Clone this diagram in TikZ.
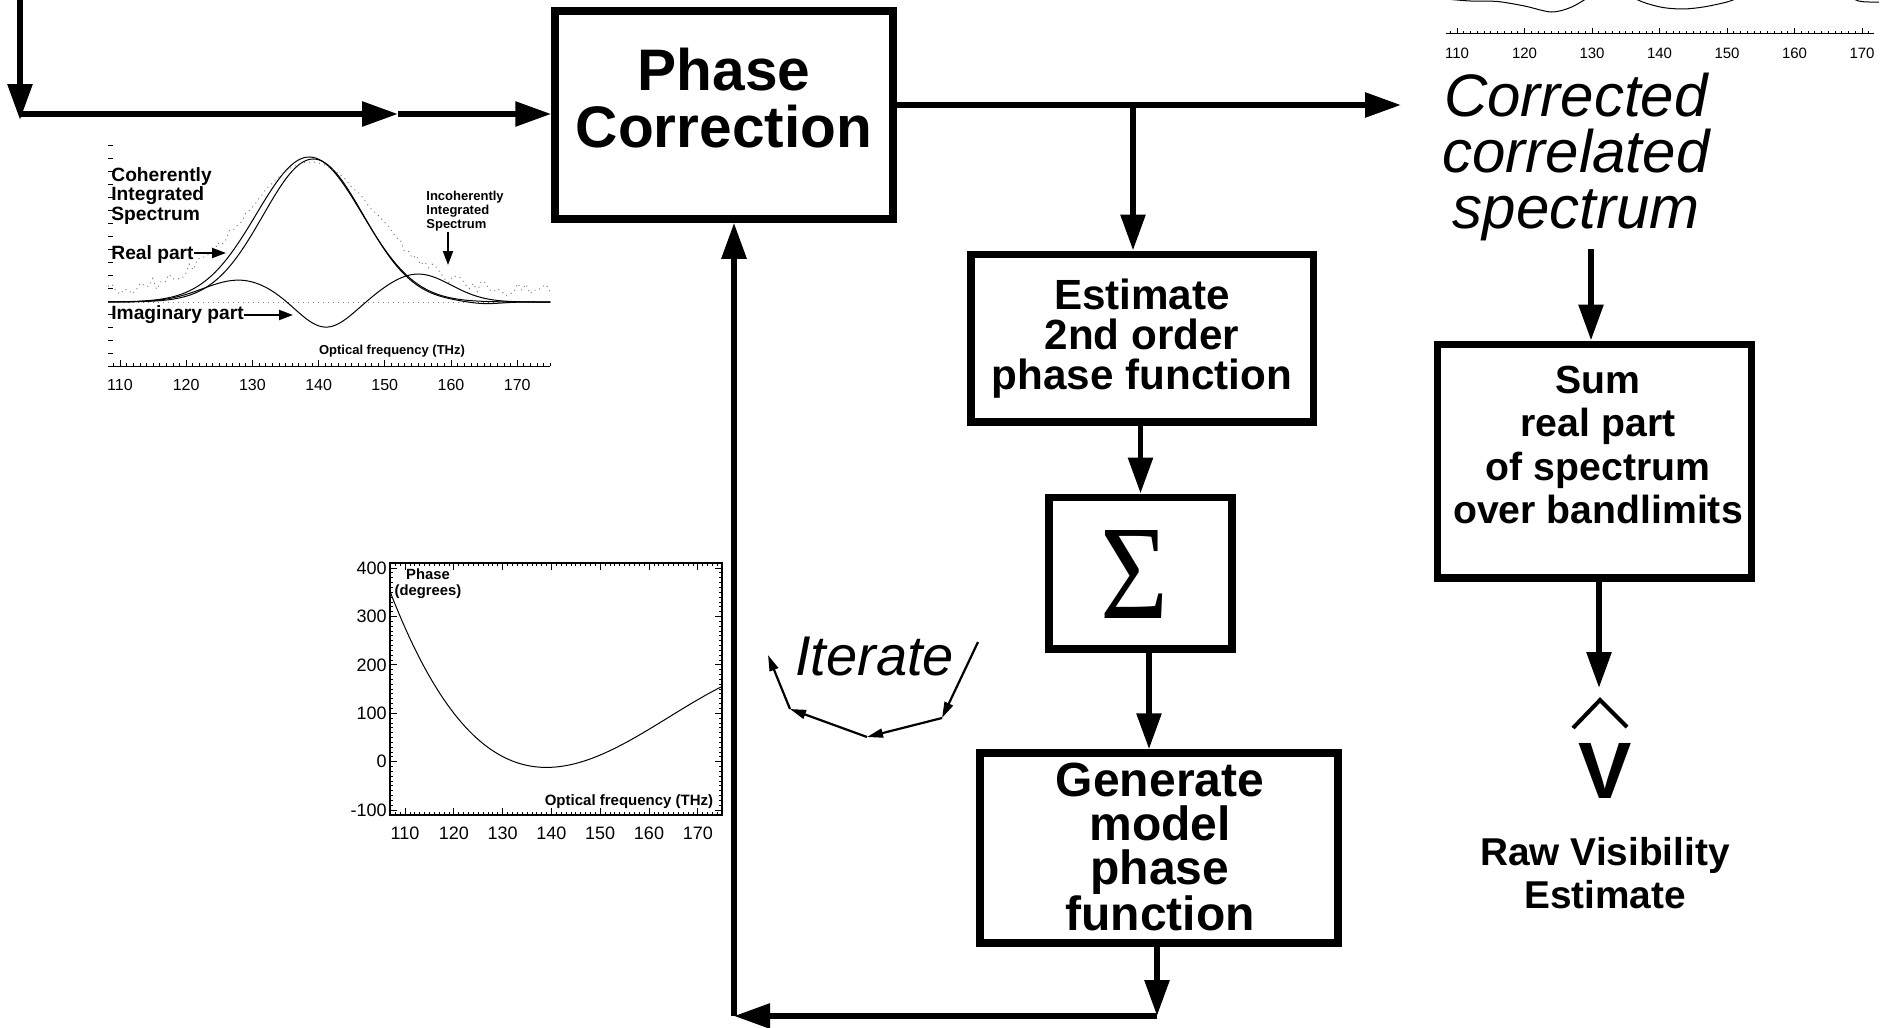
\documentclass[tikz,border=0pt]{standalone}
\usepackage{fontspec}
\setmainfont{Liberation Sans}
\newfontfamily\sigmafont{Liberation Serif}
\usepackage{graphicx}
\usetikzlibrary{arrows.meta}

\newcommand\setfs[2]{\fontsize{#1}{#2}\selectfont}

\tikzset{
  stepbox/.style={draw, rectangle, line width=3.75pt, inner sep=0pt},
  boxtext/.style={align=center, inner sep=0pt},
  flow/.style={line width=2.9pt, -{Triangle[length=18pt,width=12pt]}},
  iterarrow/.style={line width=1.1pt, -{Triangle[length=8pt,width=4.5pt]}},
  tagarrow/.style={line width=1pt, -{Triangle[length=7pt,width=5pt]}},
  curve/.style={line width=0.5pt},
  ticklabel/.style={inner sep=0pt},
}

\begin{document}
\begin{tikzpicture}[x=0.5pt, y=-0.5pt]
\useasboundingbox (0,0) rectangle (1886,1028);

% processing boxes
\node[stepbox, minimum width=169pt, minimum height=104pt] (pc) at (724,115) {};
\node[boxtext, font=\bfseries\setfs{29.3}{28.5}] (pcT) at (724,98) {Phase\\Correction};
\node[stepbox, minimum width=171.25pt, minimum height=83.75pt] (est) at (1142,338) {};
\node[boxtext, font=\bfseries\setfs{21.1}{20}] (estT) at (1142,339) {Estimate\\2nd order\\phase function};
\node[stepbox, minimum width=91.5pt, minimum height=75.75pt] (sig) at (1140.5,573) {};
\node[inner sep=0pt] (sigT) at (1134,574) {\resizebox{34pt}{44pt}{\sigmafont Σ}};
\node[stepbox, minimum width=179pt, minimum height=95pt] (gen) at (1159,848) {};
\node[boxtext, font=\bfseries\setfs{24}{22}] (genT) at (1160,847) {Generate\\model\\phase\\function};
\node[stepbox, minimum width=157pt, minimum height=116.75pt] (sum) at (1594.5,461) {};
\node[boxtext, font=\bfseries\setfs{19.6}{21.8}] (sumT) at (1598,445) {Sum\\real part\\of spectrum\\over bandlimits};

% free texts
\node[boxtext, font=\itshape\setfs{30}{27.8}] (spec) at (1576,157) {Corrected\\correlated\\spectrum};
\node[boxtext, font=\itshape\setfs{28}{28}, anchor=base] (iter) at (874.5,675) {Iterate};
\node[boxtext, font=\bfseries\setfs{40}{40}, anchor=base] (vis) at (1605,798) {V};
\node[boxtext, font=\bfseries\setfs{19.4}{21.5}] (raw) at (1605,873) {Raw Visibility\\Estimate};

% connectors
\coordinate (inTop) at (20,0);
\coordinate (inTip) at (20,120);
\coordinate (inCorner) at (20,114);
\coordinate (inMid) at (398,114);
\coordinate (outR) at (1401,105);
\coordinate (br) at (1133,105);
\coordinate (sgX) at (1149,0);
\coordinate (fbR) at (1157,1016);
\coordinate (fbL) at (734,1016);
\coordinate (specBot) at (1591,249);
\coordinate (vTip) at (1599,688);
\draw[flow] (inTop) -- (inTip);
\draw[flow] (inCorner) -- (inMid);
\draw[flow] (inMid) -- (pc.west |- inMid);
\draw[flow] (pc.east |- outR) -- (outR);
\draw[flow] (br) -- (br |- est.north);
\draw[flow] (sig.north |- est.south) -- (sig.north);
\draw[flow] (sgX |- sig.south) -- (sgX |- gen.north);
\draw[flow] (fbR |- gen.south) -- (fbR);
\draw[flow] (fbR) -- (fbL);
\draw[flow] (fbL) -- (fbL |- pc.south);
\draw[flow] (specBot) -- (specBot |- sum.north);
\draw[flow] (vTip |- sum.south) -- (vTip);

% hat over V
\coordinate (hatL) at (1573,728);
\coordinate (hatTop) at (1600,700);
\coordinate (hatR) at (1627,727);
\draw[line width=2pt] (hatL) -- (hatTop) -- (hatR);

% iterate loop
\coordinate (it1) at (978,642);
\coordinate (it2) at (942,718);
\coordinate (it3) at (867,737);
\coordinate (it4) at (790,709);
\coordinate (it5) at (768,655);
\draw[iterarrow] (it1) -- (it2);
\draw[iterarrow] (it2) -- (it3);
\draw[iterarrow] (it3) -- (it4);
\draw[iterarrow] (it4) -- (it5);

% spectrum plot (top left)
\begin{scope}[x=3.31pt, y=0.5pt, shift={(-304.1pt,-151pt)}]
  \draw[curve] (108.2,-64) -- (175,-64);
  \foreach \t in {109,...,175} \draw[line width=0.35pt] (\t,-64) -- (\t,-61);
  \foreach \t in {110,120,...,170} \draw[line width=0.4pt] (\t,-64) -- (\t,-58);
  \foreach \h in {-51,-38,...,167} \draw[line width=0.35pt] (108.2,\h) -- (109,\h);
  \draw[gray, dotted, line width=0.5pt] (108.2,0) -- (175,0);
  \draw[curve] plot[domain=108.2:175, samples=150, smooth] (\x,{145*exp(-((\x-138.6)*(\x-138.6))/128)});
  \draw[curve] plot[domain=108.2:175, samples=150, smooth] (\x,{143*exp(-((\x-139.2)*(\x-139.2))/115)-2*exp(-((\x-165)*(\x-165))/12)});
  \draw[curve] plot[domain=108.2:175, samples=150, smooth] (\x,{22*exp(-((\x-128)*(\x-128))/60.5)-27*exp(-((\x-141)*(\x-141))/32)+28*exp(-((\x-155)*(\x-155))/50)});
  \pgfmathsetseed{3}
  \draw[gray, dotted, line width=0.5pt] plot[domain=108.2:175, samples=110] (\x,{140*exp(-((\x-138.8)*(\x-138.8))/185)+(12+7*rand)*(1-exp(-((\x-138.8)*(\x-138.8))/185))});
  \foreach \t in {110,120,...,170} \node[ticklabel, font=\setfs{8}{8}] (sx\t) at (\t,-83) {\t};
\end{scope}
\node[boxtext, align=left, anchor=north west, font=\bfseries\setfs{9.6}{9.7}] (coh) at (111,167) {Coherently\\Integrated\\Spectrum};
\node[boxtext, anchor=base west, font=\bfseries\setfs{9.6}{9.6}] (rp) at (111,259) {Real part};
\node[boxtext, anchor=base west, font=\bfseries\setfs{9.6}{9.6}] (ip) at (111,319) {Imaginary part};
\node[boxtext, align=left, anchor=north west, font=\bfseries\setfs{6.5}{7}] (incoh) at (426,191) {Incoherently\\Integrated\\Spectrum};
\node[boxtext, font=\bfseries\setfs{6.5}{6.5}] (sxl) at (392,351) {Optical frequency (THz)};
\coordinate (rpTip) at (226,253);
\coordinate (ipTip) at (293,315);
\coordinate (incTip) at (448,265);
\draw[tagarrow] (rp.east |- rpTip) -- (rpTip);
\draw[tagarrow] (ip.east |- ipTip) -- (ipTip);
\draw[tagarrow] (incTip |- incoh.south) -- (incTip);

% phase plot (bottom)
\begin{scope}[x=2.44pt, y=0.242pt, shift={(-65.9pt,-380.8pt)}]
  \draw[line width=0.6pt] (106.93,-110.3) rectangle (174.96,410.3);
  \foreach \t in {107,...,174} {
    \draw[line width=0.35pt] (\t,-110.3) -- ++(0,6);
    \draw[line width=0.35pt] (\t,410.3) -- ++(0,-6);
  }
  \foreach \t in {110,120,...,170} {
    \draw[line width=0.4pt] (\t,-110.3) -- ++(0,14);
    \draw[line width=0.4pt] (\t,410.3) -- ++(0,-14);
  }
  \foreach \v in {-100,-90,...,400} {
    \draw[line width=0.35pt] (106.93,\v) -- ++(0.6,0);
    \draw[line width=0.35pt] (174.96,\v) -- ++(-0.6,0);
  }
  \foreach \v in {-100,0,...,400} {
    \draw[line width=0.4pt] (106.93,\v) -- ++(1.4,0);
    \draw[line width=0.4pt] (174.96,\v) -- ++(-1.4,0);
  }
  \draw[curve] plot[domain=106.93:174.96, samples=120, smooth] (\x,{-12+0.2478*(\x-139)*(\x-139)-0.0033*(\x-139)*(\x-139)*(\x-139)});
  \foreach \t in {110,120,...,170} \node[ticklabel, font=\setfs{9}{9}] (px\t) at (\t,-147.5) {\t};
  \foreach \v in {-100,0,100,200,300,400} \node[ticklabel, anchor=east, font=\setfs{9}{9}] (py\v) at (106.3,\v) {\v};
\end{scope}
\node[boxtext, font=\bfseries\setfs{7.4}{8}] (phl) at (428,584) {Phase\\(degrees)};
\node[boxtext, font=\bfseries\setfs{7.5}{7.5}] (pxl) at (629,802) {Optical frequency (THz)};

% corrected spectrum plot (top right, cut off)
\begin{scope}[x=3.375pt, y=0.5pt, shift={(357.25pt,-16.5pt)}]
  \draw[curve] (108.3,0) -- (171.8,0);
  \foreach \t in {109,...,171} \draw[line width=0.35pt] (\t,0) -- (\t,2.5);
  \foreach \t in {110,120,...,170} \draw[line width=0.4pt] (\t,0) -- (\t,5);
  \foreach \t in {110,120,...,170} \node[ticklabel, font=\setfs{7.5}{7.5}] (tx\t) at (\t,-20) {\t};
  \begin{scope}
    \clip (108,5) rectangle (172.5,33.5);
    \draw[curve] plot[smooth] coordinates {(108.3,34) (112,32) (116,31.5) (120,27) (124,21) (127,26) (130,38)};
    \draw[curve] plot[smooth] coordinates {(134,42) (137.5,31) (140.5,25.5) (143.5,24) (146.5,26) (150,31) (152,36)};
    \draw[curve] plot[smooth] coordinates {(167.5,38) (169.5,32) (171,31) (172.5,31)};
  \end{scope}
\end{scope}
\end{tikzpicture}
\end{document}
